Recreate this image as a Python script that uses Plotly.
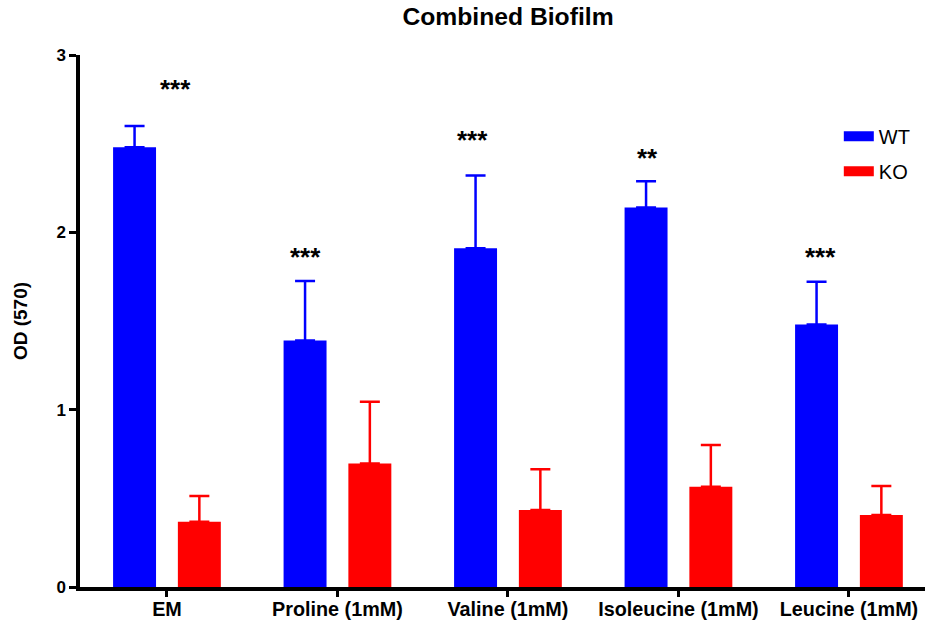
import plotly.graph_objects as go

# ---- data ----
categories = ["EM", "Proline (1mM)", "Valine (1mM)", "Isoleucine (1mM)", "Leucine (1mM)"]
wt_mean = [2.48, 1.39, 1.91, 2.14, 1.48]
wt_err = [0.12, 0.335, 0.41, 0.148, 0.242]
ko_mean = [0.368, 0.697, 0.434, 0.566, 0.406]
ko_err = [0.145, 0.348, 0.23, 0.235, 0.164]
star_text = ["***", "***", "***", "**", "***"]
star_y = [2.85, 1.90, 2.56, 2.46, 1.90]

# ---- layout tweaks (not data) ----
star_dx = [0.05, -0.19, -0.21, -0.18, -0.165]
FONT = "Liberation Sans, Arial, Helvetica, sans-serif"
BLUE = "#0000FF"
RED = "#FF0000"

fig = go.Figure()

fig.add_trace(go.Bar(
    x=categories, y=wt_mean, name="WT", marker=dict(color=BLUE, line=dict(width=0)),
    error_y=dict(type="data", array=wt_err, arrayminus=[0] * len(wt_err), symmetric=False,
                 color=BLUE, thickness=2.5, width=10),
    showlegend=False,
))
fig.add_trace(go.Bar(
    x=categories, y=ko_mean, name="KO", marker=dict(color=RED, line=dict(width=0)),
    error_y=dict(type="data", array=ko_err, arrayminus=[0] * len(ko_err), symmetric=False,
                 color=RED, thickness=2.5, width=10),
    showlegend=False,
))

# legend entries drawn as thick line swatches (rectangles)
fig.add_trace(go.Scatter(x=[None], y=[None], mode="lines", name="WT", legendgroup="wt",
                         line=dict(color=BLUE, width=14)))
fig.add_trace(go.Scatter(x=[None], y=[None], mode="lines", name="KO", legendgroup="ko",
                         line=dict(color=RED, width=14)))

for i, (t, y) in enumerate(zip(star_text, star_y)):
    fig.add_annotation(x=i + star_dx[i], y=y, xref="x", yref="y", text=t,
                       showarrow=False, yshift=-7,
                       font=dict(family=FONT, size=26, color="black", weight="bold"))

fig.update_layout(
    width=930, height=621,
    margin=dict(l=80, r=5, t=55, b=34),
    paper_bgcolor="white", plot_bgcolor="white",
    barmode="group", bargap=0.24, bargroupgap=0.337,
    font=dict(family=FONT, color="black"),
    title=dict(text="Combined Biofilm", x=0.5065, xref="paper", xanchor="center",
               y=0.973, yref="container", yanchor="middle",
               font=dict(family=FONT, size=24.7, color="black", weight="bold")),
    legend=dict(x=0.898, y=0.884, xanchor="left", yanchor="top",
                font=dict(family=FONT, size=20, color="black"),
                bgcolor="rgba(0,0,0,0)", itemwidth=30,
                traceorder="grouped", tracegroupgap=6),
)

fig.update_xaxes(
    type="category", range=[-0.51, 4.446], automargin=False,
    showline=True, linewidth=3.5, linecolor="black",
    ticks="outside", ticklen=6, tickwidth=3, tickcolor="black",
    ticklabelstandoff=-5,
    showgrid=False, zeroline=False,
    tickfont=dict(family=FONT, size=19.8, color="black", weight="bold"),
)
fig.update_yaxes(
    range=[0, 3], tickvals=[0, 1, 2, 3], automargin=False,
    showline=True, linewidth=3.5, linecolor="black",
    ticks="outside", ticklen=7, tickwidth=3, tickcolor="black",
    showgrid=False, zeroline=False,
    tickfont=dict(family=FONT, size=17, color="black", weight="bold"),
    title=dict(text="OD (570)", standoff=25,
               font=dict(family=FONT, size=19, color="black", weight="bold")),
)

fig.write_html("out.html", config={"displayModeBar": False},
               post_script="document.body.style.margin='0';")
